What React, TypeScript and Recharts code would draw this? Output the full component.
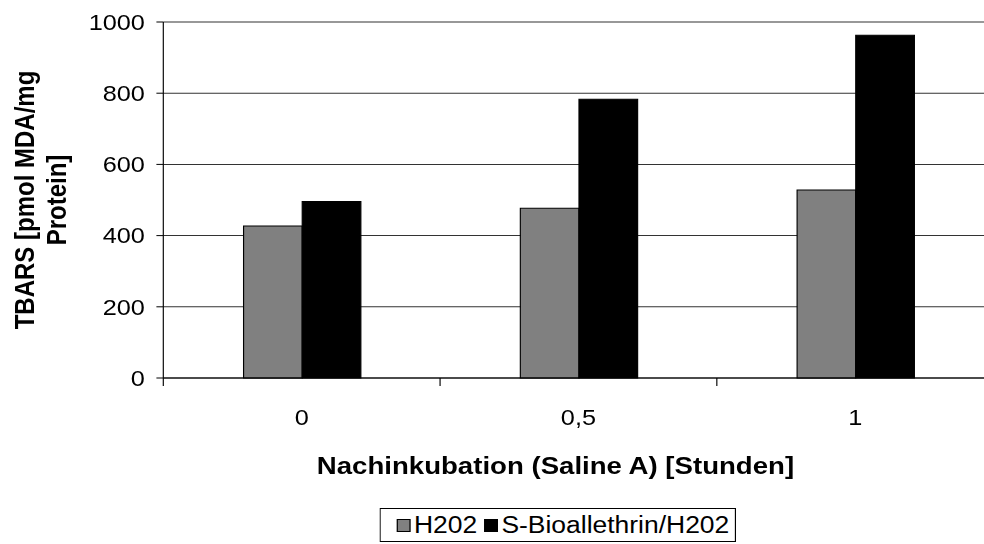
import { BarChart, Bar, XAxis, YAxis, CartesianGrid, Legend } from "recharts";

// Nachinkubation in Stunden und TBARS-Werte je Gruppe
const hours = ["0", "0,5", "1"];
const h2o2 = [427, 477, 528];
const bioallethrin = [496, 783, 963];
const yTicks = [0, 200, 400, 600, 800, 1000];

const data = hours.map((hour, i) => ({ hour, h2o2: h2o2[i], bio: bioallethrin[i] }));

const FONT = "Arial, 'Liberation Sans', sans-serif";
// the whole chart is drawn a bit narrower and then stretched sideways
const STRETCH = 1.15;
const W = 864;
const H = 544;
const Y_AXIS_W = 142;
const BAND = (W - Y_AXIS_W) / hours.length;
const X_TICK = 8;
const X_MARGIN = 23;
const TICK_FONT = 22;

function HourTick({ x, y, payload }: any) {
  const axisY = y - X_TICK - X_MARGIN;
  const edge = x - BAND / 2;
  return (
    <g>
      <line x1={edge} x2={edge} y1={axisY} y2={axisY + X_TICK} stroke="#000" />
      <text x={x} y={y} dy={TICK_FONT * 0.71} textAnchor="middle" fontSize={TICK_FONT} fontFamily={FONT} fill="#000">
        {payload.value}
      </text>
    </g>
  );
}

function XTitle({ viewBox }: any) {
  return (
    <text
      x={viewBox.x + viewBox.width / 2 - 20}
      y={viewBox.y + 96}
      textAnchor="middle"
      fontSize={24}
      fontWeight="bold"
      fontFamily={FONT}
      fill="#000"
    >
      Nachinkubation (Saline A) [Stunden]
    </text>
  );
}

function YTitle({ viewBox }: any) {
  const cy = viewBox.y + viewBox.height / 2;
  const lines = ["TBARS [pmol MDA/mg", "Protein]"];
  const xs = [30, 57];
  return (
    <g>
      {lines.map((t, i) => (
        <text
          key={t}
          x={xs[i]}
          y={cy}
          transform={`rotate(-90 ${xs[i]} ${cy})`}
          textAnchor="middle"
          fontSize={24}
          fontWeight="bold"
          fontFamily={FONT}
          fill="#000"
        >
          {t}
        </text>
      ))}
    </g>
  );
}

function LegendBox({ payload }: any) {
  return (
    <div
      style={{
        display: "flex",
        alignItems: "center",
        height: 34,
        boxSizing: "border-box",
        border: "1px solid #000",
        padding: "0 5px 0 14px",
        background: "#fff",
        fontFamily: FONT,
        fontSize: 23,
        color: "#000",
        whiteSpace: "nowrap",
      }}
    >
      {(payload || []).map((p: any, i: number) => (
        <span key={p.value} style={{ display: "flex", alignItems: "center", marginLeft: i ? 6 : 0 }}>
          <span
            style={{
              display: "inline-block",
              width: 12,
              height: 13,
              boxSizing: "border-box",
              background: p.color,
              border: "1px solid #000",
              marginRight: 3,
            }}
          />
          {p.value}
        </span>
      ))}
    </div>
  );
}

export default function App() {
  return (
    <div style={{ position: "absolute", left: 0, top: 0, width: 984, height: 544, overflow: "hidden", background: "#fff" }}>
      <div style={{ width: W, height: H, transform: `scaleX(${STRETCH})`, transformOrigin: "0 0" }}>
        <BarChart
          width={W}
          height={H}
          data={data}
          margin={{ top: 22, right: 0, bottom: 2, left: 0 }}
          barCategoryGap="29%"
          barGap={0}
        >
          <CartesianGrid vertical={false} stroke="#333" />
          <XAxis
            dataKey="hour"
            height={130}
            interval={0}
            tickSize={X_TICK}
            tickMargin={X_MARGIN}
            tickLine={false}
            axisLine={{ stroke: "#000" }}
            tick={<HourTick />}
            label={<XTitle />}
          />
          <YAxis
            width={Y_AXIS_W}
            domain={[0, 1000]}
            ticks={yTicks}
            interval={0}
            tickSize={6}
            tickMargin={10}
            axisLine={{ stroke: "#000" }}
            tickLine={{ stroke: "#000" }}
            tick={{ fontSize: TICK_FONT, fill: "#000", fontFamily: FONT }}
            label={<YTitle />}
          />
          <Legend
            verticalAlign="bottom"
            content={<LegendBox />}
            wrapperStyle={{ left: 330, bottom: 2, width: "auto" }}
          />
          <Bar dataKey="h2o2" name="H202" fill="#808080" stroke="#000" strokeWidth={1} isAnimationActive={false} />
          <Bar dataKey="bio" name="S-Bioallethrin/H202" fill="#000000" stroke="#000" strokeWidth={1} isAnimationActive={false} />
        </BarChart>
      </div>
    </div>
  );
}
